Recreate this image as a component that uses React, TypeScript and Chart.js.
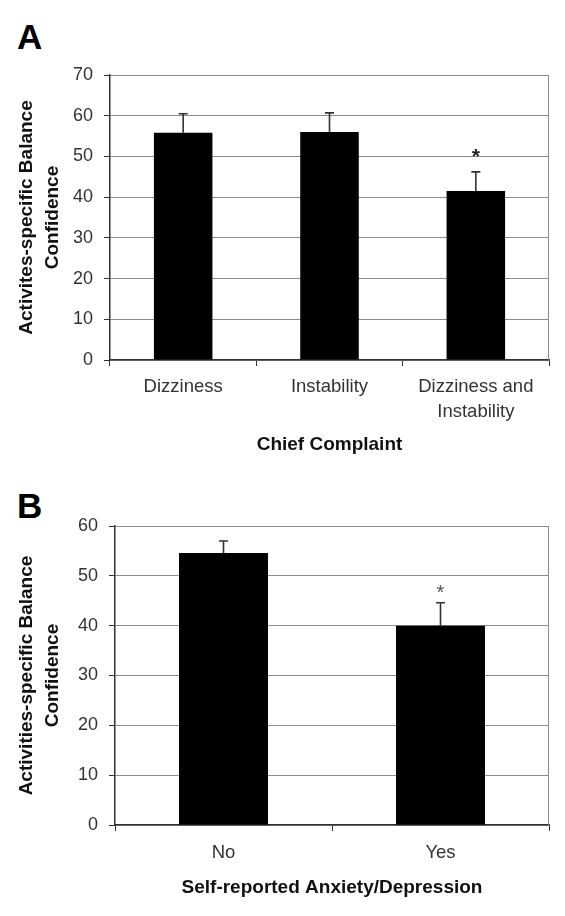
import React, { useEffect, useRef } from "react";
import { Chart, registerables } from "chart.js";

Chart.register(...registerables);
Chart.defaults.font.family = "'Liberation Sans', Arial, sans-serif";

// ---------- Data: panel A ----------
const categoriesA: (string | string[])[] = ["Dizziness", "Instability", ["Dizziness and", "Instability"]];
const meansA = [55.8, 56.0, 41.5];
const errorsA = [4.7, 4.7, 4.7];
const sigA = ["", "", "*"];
const yMaxA = 70;
const yStepA = 10;
const xTitleA = "Chief Complaint";
const yTitleA = ["Activites-specific Balance", "Confidence"];

// ---------- Data: panel B ----------
const categoriesB: (string | string[])[] = ["No", "Yes"];
const meansB = [54.6, 40.0];
const errorsB = [2.4, 4.6];
const sigB = ["", "*"];
const yMaxB = 60;
const yStepB = 10;
const xTitleB = "Self-reported Anxiety/Depression";
const yTitleB = ["Activities-specific Balance", "Confidence"];

const errorBarPlugin = {
  id: "errorBars",
  afterDatasetsDraw(chart: any, _args: any, opts: any) {
    const { ctx } = chart;
    const yScale = chart.scales.y;
    const meta = chart.getDatasetMeta(0);
    const means: number[] = chart.data.datasets[0].data;
    ctx.save();
    meta.data.forEach((bar: any, i: number) => {
      const x = bar.x;
      const yTop = yScale.getPixelForValue(means[i]);
      const yErr = yScale.getPixelForValue(means[i] + opts.errors[i]);
      ctx.strokeStyle = opts.color;
      ctx.lineWidth = opts.lineWidth;
      ctx.beginPath();
      ctx.moveTo(x, yTop);
      ctx.lineTo(x, yErr);
      ctx.moveTo(x - opts.capWidth / 2, yErr);
      ctx.lineTo(x + opts.capWidth / 2, yErr);
      ctx.stroke();
      if (opts.sig[i]) {
        ctx.fillStyle = opts.sigColor;
        ctx.font = opts.sigFont;
        ctx.textAlign = "center";
        ctx.textBaseline = "alphabetic";
        ctx.fillText(opts.sig[i], x, yErr - opts.sigOffset);
      }
    });
    ctx.restore();
  },
};

const borderPlugin = {
  id: "plotBorder",
  beforeDatasetsDraw(chart: any, _args: any, opts: any) {
    const { ctx, chartArea } = chart;
    ctx.save();
    ctx.strokeStyle = opts.color;
    ctx.lineWidth = 1;
    ctx.beginPath();
    ctx.moveTo(chartArea.right - 0.5, chartArea.top);
    ctx.lineTo(chartArea.right - 0.5, chartArea.bottom);
    ctx.stroke();
    ctx.restore();
  },
};

interface PanelParams {
  labels: (string | string[])[];
  means: number[];
  errors: number[];
  sig: string[];
  yMax: number;
  yStep: number;
  xTitle: string;
  yTitle: string[];
  barPct: number;
  padding: { left: number; right: number; top: number; bottom: number };
  yWidth: number;
  xHeight: number;
  xTickPad: number;
  sigOffset: number;
  sigFont: string;
  sigColor: string;
}

function buildConfig(p: PanelParams): any {
  return {
    type: "bar",
    data: {
      labels: p.labels,
      datasets: [
        {
          data: p.means,
          backgroundColor: "#000000",
          borderWidth: 0,
          barPercentage: p.barPct,
          categoryPercentage: 1,
        },
      ],
    },
    plugins: [borderPlugin, errorBarPlugin],
    options: {
      responsive: false,
      animation: false,
      layout: { padding: p.padding },
      plugins: {
        legend: { display: false },
        tooltip: { enabled: false },
        title: { display: false },
        errorBars: {
          errors: p.errors,
          sig: p.sig,
          color: "#333333",
          lineWidth: 1.6,
          capWidth: 9,
          sigOffset: p.sigOffset,
          sigFont: p.sigFont,
          sigColor: p.sigColor,
        },
        plotBorder: { color: "#8c8c8c" },
      },
      scales: {
        x: {
          afterFit: (s: any) => {
            s.height = p.xHeight;
          },
          grid: {
            display: true,
            drawOnChartArea: false,
            drawTicks: true,
            tickLength: 6,
            color: "#333333",
            tickColor: "#333333",
            offset: true,
          },
          border: { display: true, color: "#333333", width: 1.5 },
          ticks: {
            color: "#333333",
            padding: p.xTickPad,
            font: { size: 18.5, lineHeight: 1.36 },
            maxRotation: 0,
            autoSkip: false,
          },
          title: {
            display: true,
            text: p.xTitle,
            color: "#111111",
            font: { size: 19, weight: "bold", lineHeight: 1.2 },
            padding: { top: 0, bottom: 0 },
          },
        },
        y: {
          min: 0,
          max: p.yMax,
          afterFit: (s: any) => {
            s.width = p.yWidth;
          },
          grid: {
            color: "#8c8c8c",
            tickColor: "#333333",
            tickLength: 6,
            drawTicks: true,
            lineWidth: 1,
          },
          border: { display: true, color: "#333333", width: 1.5 },
          ticks: {
            stepSize: p.yStep,
            color: "#333333",
            padding: 11,
            font: { size: 18 },
          },
          title: {
            display: true,
            text: p.yTitle,
            color: "#111111",
            font: { size: 19, weight: "bold", lineHeight: 1.35 },
            padding: { top: 14, bottom: 0 },
          },
        },
      },
    },
  };
}

function Panel(props: { params: PanelParams; width: number; height: number; top: number }) {
  const ref = useRef<HTMLCanvasElement | null>(null);
  useEffect(() => {
    if (!ref.current) return;
    const chart = new Chart(ref.current, buildConfig(props.params));
    return () => chart.destroy();
  }, []);
  return (
    <canvas
      ref={ref}
      width={props.width}
      height={props.height}
      style={{ position: "absolute", left: 0, top: props.top, width: props.width, height: props.height, display: "block" }}
    />
  );
}

const panelLabelStyle: React.CSSProperties = {
  position: "absolute",
  left: 17,
  fontFamily: "'Liberation Sans', Arial, sans-serif",
  fontWeight: "bold",
  fontSize: 35,
  lineHeight: "35px",
  color: "#000",
};

export default function App() {
  const paramsA: PanelParams = {
    labels: categoriesA,
    means: meansA,
    errors: errorsA,
    sig: sigA,
    yMax: yMaxA,
    yStep: yStepA,
    xTitle: xTitleA,
    yTitle: yTitleA,
    barPct: 0.4,
    padding: { left: 0, right: 16, top: 75, bottom: 3.6 },
    yWidth: 110,
    xHeight: 96.4,
    xTickPad: 8,
    sigOffset: 9,
    sigFont: "bold 21px 'Liberation Sans', Arial, sans-serif",
    sigColor: "#222222",
  };
  const paramsB: PanelParams = {
    labels: categoriesB,
    means: meansB,
    errors: errorsB,
    sig: sigB,
    yMax: yMaxB,
    yStep: yStepB,
    xTitle: xTitleB,
    yTitle: yTitleB,
    barPct: 0.41,
    padding: { left: 0, right: 16, top: 66, bottom: 16.6 },
    yWidth: 115,
    xHeight: 74.4,
    xTickPad: 9,
    sigOffset: 3.6,
    sigFont: "20px 'Liberation Sans', Arial, sans-serif",
    sigColor: "#555555",
  };
  return (
    <div style={{ position: "absolute", left: 0, top: 0, width: 565, height: 916, background: "#fff" }}>
      <div style={{ ...panelLabelStyle, top: 19.4 }}>A</div>
      <div style={{ ...panelLabelStyle, top: 488.4 }}>B</div>
      <Panel params={paramsA} width={565} height={460} top={0} />
      <Panel params={paramsB} width={565} height={456} top={460} />
    </div>
  );
}
